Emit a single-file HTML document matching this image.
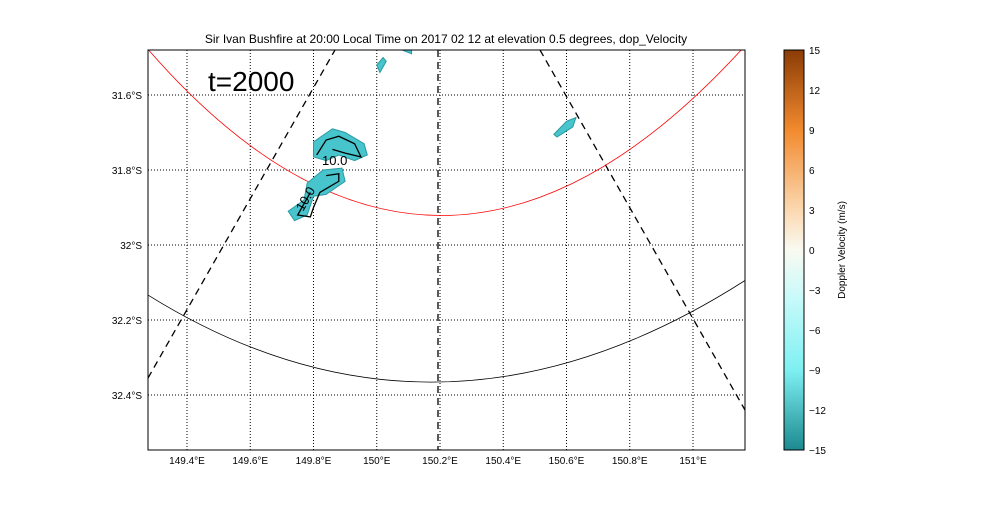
<!DOCTYPE html>
<html><head><meta charset="utf-8"><style>
body{margin:0;background:#fff;font-family:"Liberation Sans",sans-serif}
svg text{font-family:"Liberation Sans",sans-serif}
</style></head><body>
<svg id="c" width="1000" height="500" xmlns="http://www.w3.org/2000/svg">
<defs><linearGradient id="cg" x1="0" y1="0" x2="0" y2="1">
<stop offset="0" stop-color="#8a3c06"/><stop offset="0.2" stop-color="#f28a2e"/><stop offset="0.4" stop-color="#fbd8b0"/><stop offset="0.5" stop-color="#fafaf2"/><stop offset="0.62" stop-color="#c8fafa"/><stop offset="0.8" stop-color="#7ef0f2"/><stop offset="1" stop-color="#1c8a90"/></linearGradient>
<clipPath id="pc"><rect x="148" y="50" width="597" height="400"/></clipPath></defs>
<text x="446" y="43" font-size="12" text-anchor="middle">Sir Ivan Bushfire at 20:00 Local Time on 2017 02 12 at elevation 0.5 degrees, dop_Velocity</text>
<g id="plot" clip-path="url(#pc)"></g>
<rect x="148" y="50" width="597" height="400" fill="none" stroke="#000"/>
<text x="208" y="91" font-size="28">t=2000</text>
<g id="ax"></g>
<rect x="784" y="50" width="20" height="400" fill="url(#cg)" stroke="#000"/>
<text transform="translate(845,250) rotate(-90)" font-size="10" text-anchor="middle">Doppler Velocity (m/s)</text>
</svg>
<script>
const lonTicks=[149.4,149.6,149.8,150,150.2,150.4,150.6,150.8,151];
const latTicks=[31.6,31.8,32,32.2,32.4];
const cbTicks=[15,12,9,6,3,0,-3,-6,-9,-12,-15];
const blobs=[
 [[149.8,31.725],[149.86,31.69],[149.9,31.7],[149.96,31.73],[149.97,31.76],[149.93,31.775],[149.88,31.76],[149.84,31.775],[149.8,31.765]],
 [[149.83,31.8],[149.89,31.795],[149.9,31.83],[149.84,31.865],[149.8,31.87],[149.78,31.92],[149.74,31.935],[149.72,31.91],[149.77,31.88],[149.78,31.835]],
 [[150.56,31.705],[150.6,31.67],[150.63,31.66],[150.62,31.685],[150.57,31.712]],
 [[150.0,31.52],[150.02,31.5],[150.03,31.51],[150.01,31.54]],
 [[150.08,31.48],[150.11,31.47],[150.11,31.49]]
];
const contours=[
 [[149.81,31.76],[149.84,31.72],[149.88,31.71],[149.93,31.73],[149.95,31.765],[149.9,31.755],[149.86,31.745]],
 [[149.84,31.815],[149.88,31.81],[149.88,31.83],[149.82,31.86],[149.8,31.9],[149.79,31.925],[149.75,31.92],[149.79,31.86]]
];
const X=l=>187+(l-149.4)/0.2*63.25;
const Y=l=>95+(l-31.6)/0.2*75;
const NS="http://www.w3.org/2000/svg";
const plot=document.getElementById('plot'),ax=document.getElementById('ax');
function mk(p,t,a){const e=document.createElementNS(NS,t);for(const k in a)e.setAttribute(k,a[k]);p.appendChild(e);return e;}
lonTicks.forEach(v=>{const x=X(v);
 const g=mk(plot,'line',{x1:x,x2:x,y1:50,y2:450,stroke:'#000','stroke-dasharray':'1,2'});
 
 
 const t=mk(ax,'text',{x:x,y:464,'font-size':10,'text-anchor':'middle'});t.textContent=(Math.round(v*10)/10)+'°E';
 
 });
latTicks.forEach(v=>{const y=Y(v);
 const g=mk(plot,'line',{x1:148,x2:745,y1:y,y2:y,stroke:'#000','stroke-dasharray':'1,2'});
 
 
 const t=mk(ax,'text',{x:142,y:y+4,'font-size':10,'text-anchor':'end'});t.textContent=(v==32?'32':v)+'°S';
 
 });
cbTicks.forEach(v=>{const y=50+(15-v)/30*400;
 mk(ax,'line',{x1:800,x2:804,y1:y,y2:y,stroke:'#000'});
 const t=mk(ax,'text',{x:809,y:y+4,'font-size':10});t.textContent=v<0?'\u2212'+(-v):v;
 
 });
[['M148,378L335,50'],['M540,50L745,410'],['M438,50L438,450']].forEach(d=>{
 const l=mk(plot,'path',{d:d[0],stroke:'#000','stroke-width':1.3,fill:'none','stroke-dasharray':'7,5'});
 
 });
const r1=mk(plot,'path',{d:'M140,40Q438,392 752,38',stroke:'red','stroke-width':0.8,fill:'none'});


const r2=mk(plot,'path',{d:'M140,290Q438,481 752,276',stroke:'#000','stroke-width':0.8,fill:'none'});


blobs.forEach(b=>{const p=mk(plot,'polygon',{points:b.map(q=>X(q[0])+','+Y(q[1])).join(' '),fill:'#48c4cc',stroke:'#2a9aa2','stroke-width':1});
 
 });
contours.forEach(b=>{const p=mk(plot,'polyline',{points:b.map(q=>X(q[0])+','+Y(q[1])).join(' '),fill:'none',stroke:'#000','stroke-width':1.3});
 
 });
[[322,165,0,'10.0'],[303,212,-60,'10.0']].forEach(c=>{const t=mk(plot,'text',{x:c[0],y:c[1],'font-size':13,transform:`rotate(${c[2]},${c[0]},${c[1]})`});t.textContent=c[3];
 
 });
</script>
</body></html>
